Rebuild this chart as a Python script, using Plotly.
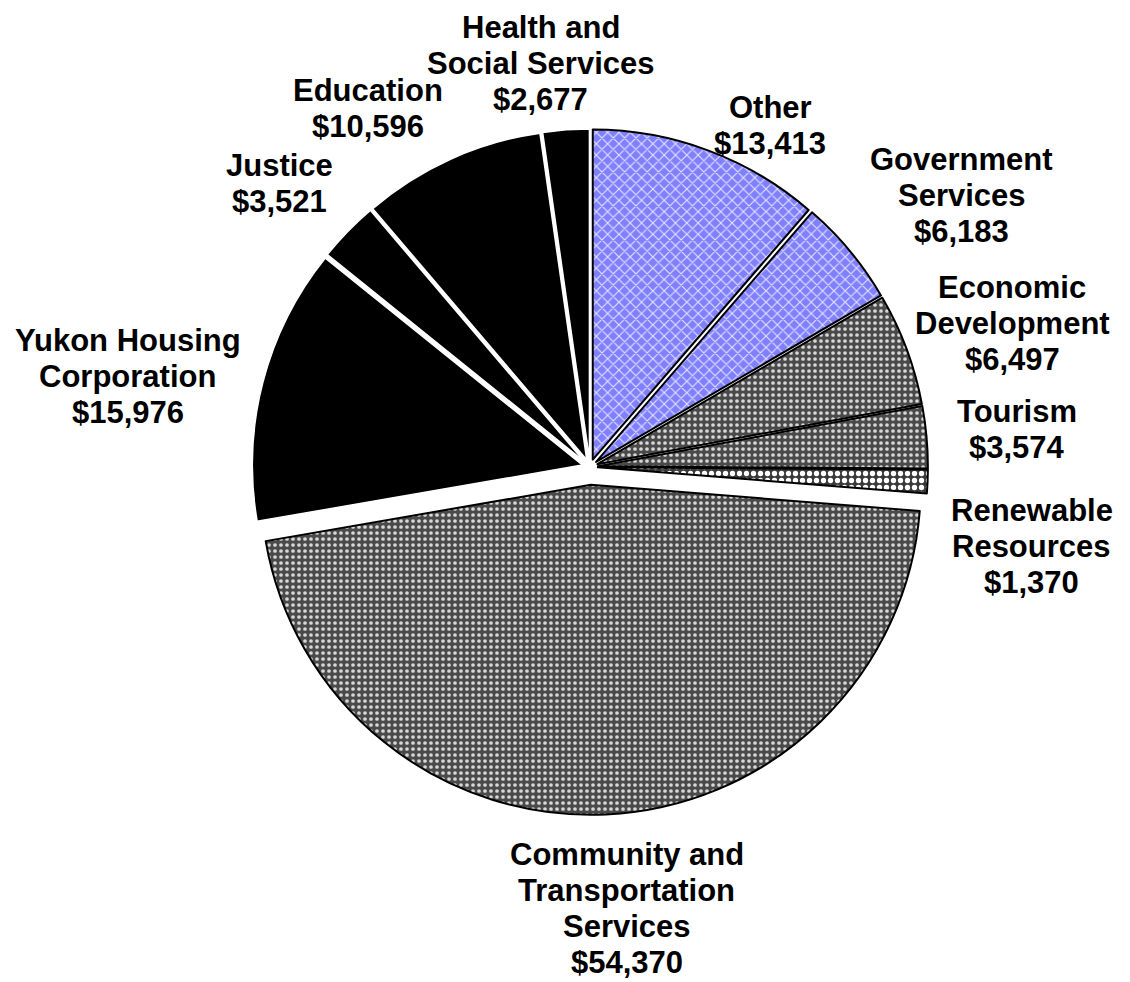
import math
import plotly.graph_objects as go

categories = [
    "Other",
    "Government<br>Services",
    "Economic<br>Development",
    "Tourism",
    "Renewable<br>Resources",
    "Community and<br>Transportation<br>Services",
    "Yukon Housing<br>Corporation",
    "Justice",
    "Education",
    "Health and<br>Social Services",
]
values = [13413, 6183, 6497, 3574, 1370, 54370, 15976, 3521, 10596, 2677]

# slice styling
pulls = [0.024, 0.024, 0.024, 0.024, 0.024, 0.054, 0.024, 0.024, 0.024, 0.024]
pat_shape = ["x", "x", ".", ".", ".", ".", "", "", "", ""]
pat_bg = ["#8080ff", "#8080ff", "#4a4a4a", "#4a4a4a", "#3a3a3a", "#4a4a4a",
          "#000000", "#000000", "#000000", "#000000"]
pat_fg = ["#e6e6ff", "#e6e6ff", "#d8d8d8", "#d8d8d8", "#ffffff", "#d8d8d8",
          "#000000", "#000000", "#000000", "#000000"]
pat_size = [8, 8, 6, 6, 7, 6, 6, 6, 6, 6]
pat_sol = [0.25, 0.25, 0.3, 0.3, 0.45, 0.3, 0.3, 0.3, 0.3, 0.3]
line_col = ["#000000"] * 6 + ["#ffffff"] * 4
line_w = [2] * 6 + [1.5] * 4

# label placement (distance from centre in px, angular nudge in degrees)
label_dist = [386, 460, 446, 429, 449, 443, 471, 420, 422, 407]
label_nudge = [7.4, 3.6, 1.6, 0.0, 7.7, -2.1, -3.4, -1.8, -7.5, -2.9]
label_font_size = 31
label_line_gap = 36

W, H = 1130, 982
dom_x = [0.20726, 0.82283]
dom_y = [0.17841, 0.88677]
cx = W * (dom_x[0] + dom_x[1]) / 2
cy = H * (1 - (dom_y[0] + dom_y[1]) / 2)

fig = go.Figure(go.Pie(
    labels=categories,
    values=values,
    sort=False,
    direction="clockwise",
    rotation=0,
    pull=pulls,
    marker=dict(
        colors=pat_bg,
        line=dict(color=line_col, width=line_w),
        pattern=dict(shape=pat_shape, bgcolor=pat_bg, fgcolor=pat_fg,
                     size=pat_size, solidity=pat_sol, fillmode="replace"),
    ),
    textinfo="none",
    domain=dict(x=dom_x, y=dom_y),
    hoverinfo="label+value",
    showlegend=False,
))

total = sum(values)
cum = 0.0
annotations = []
for lab, val, d, nud in zip(categories, values, label_dist, label_nudge):
    mid = (cum + val / 2) / total * 360.0
    cum += val
    phi = math.radians(mid + nud)
    px = cx + d * math.sin(phi)
    py = cy - d * math.cos(phi)
    lines = lab.split("<br>") + [f"${val:,}"]
    n = len(lines)
    for i, line in enumerate(lines):
        ly = py + (i - (n - 1) / 2) * label_line_gap
        annotations.append(dict(
            x=px / W, y=1 - ly / H, xref="paper", yref="paper",
            xanchor="center", yanchor="middle", showarrow=False,
            text=line, align="center", borderpad=0,
            font=dict(family="Liberation Sans, Arial", size=label_font_size,
                      color="#000000", weight="bold"),
        ))

fig.update_layout(
    width=W,
    height=H,
    margin=dict(l=0, r=0, t=0, b=0),
    paper_bgcolor="#ffffff",
    plot_bgcolor="#ffffff",
    showlegend=False,
    annotations=annotations,
)

fig.write_html("out.html")
